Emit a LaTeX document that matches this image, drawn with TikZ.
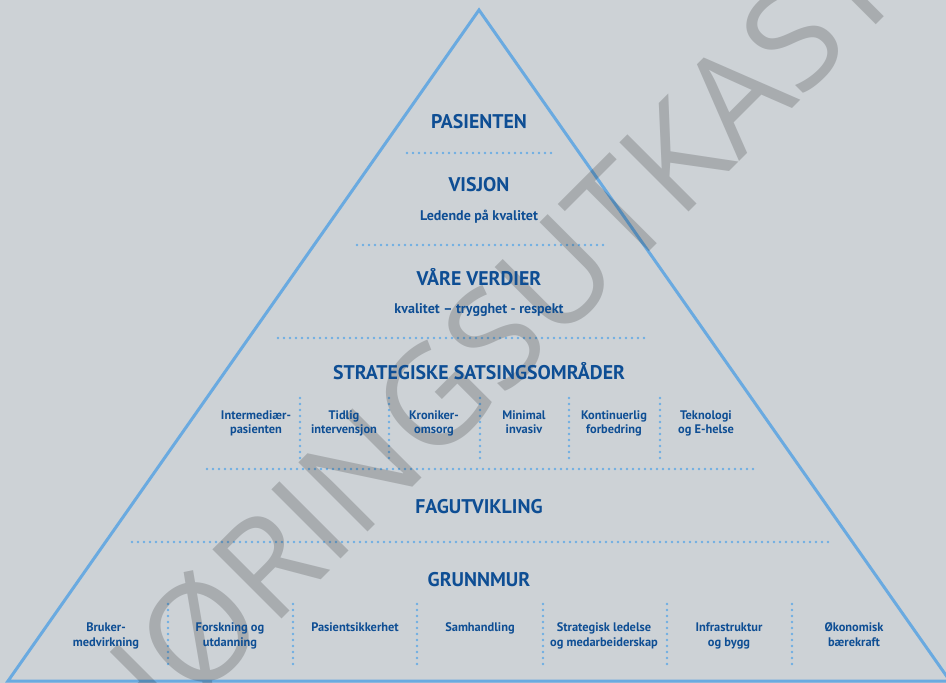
\documentclass[tikz,border=0pt]{standalone}
\usepackage{fontspec}
\setmainfont{PT Sans}
\newfontfamily\wmfont{Open Sans}
\definecolor{bgc}{RGB}{205,210,214}
\definecolor{tric}{RGB}{106,170,224}
\definecolor{dotc}{RGB}{110,174,228}
\definecolor{txtc}{RGB}{14,78,148}
\tikzset{
  tri/.style={draw=tric, line width=3pt, line join=miter},
  dotline/.style={draw=dotc, line width=2.9pt, line cap=round, dash pattern=on 0pt off 6pt},
  head/.style={text=txtc, font=\bfseries\fontsize{19.8}{22}\selectfont, anchor=base, inner sep=0pt},
  sub/.style={text=txtc, font=\bfseries\fontsize{14}{16}\selectfont, anchor=base, inner sep=0pt},
  item/.style={text=txtc, font=\bfseries\fontsize{12.4}{14.3}\selectfont, anchor=base, inner sep=0pt, align=center},
  wm/.style={text=black, opacity=0.18, font=\wmfont\fontsize{137}{137}\selectfont, inner sep=0pt}
}
\begin{document}
\begin{tikzpicture}[x=1pt,y=-1pt]
\useasboundingbox (0,0) rectangle (946,683);
\clip (0,0) rectangle (946,683);
\fill[bgc] (0,0) rectangle (946,683);
\draw[tri] (479,10) -- (950,681) -- (8,681) -- cycle;
% horizontal dotted lines
\draw[dotline] (407,153) -- (555,153);
\draw[dotline] (357,245) -- (603,245);
\draw[dotline] (278,338) -- (645,338);
\draw[dotline] (207,469) -- (753,469);
\draw[dotline] (132,542) -- (828,542);
% strategic separators
\foreach \x in {300,389,480,569,660} \draw[dotline] (\x,398) -- (\x,459);
% bottom separators
\foreach \x in {168,293,417,543,667,792} \draw[dotline] (\x,604) -- (\x,666);
% watermark
\node[wm, rotate=45] (wmk) at (481.5,350) {HØRINGSUTKAST};
% texts
\node[head] (pas) at (479,128.3) {PASIENTEN};
\node[head] (vis) at (479,191.7) {VISJON};
\node[sub] (led) at (479,220) {Ledende på kvalitet};
\node[head] (ver) at (479,285) {VÅRE VERDIER};
\node[sub] (kva) at (479,313.3) {kvalitet – trygghet - respekt};
\node[head] (str) at (479,379) {STRATEGISKE SATSINGSOMRÅDER};
\node[item] (s1) at (256,433.3) {Intermediær-\\pasienten};
\node[item] (s2) at (344,433.3) {Tidlig\\intervensjon};
\node[item] (s3) at (434,433.3) {Kroniker-\\omsorg};
\node[item] (s4) at (524,433.3) {Minimal\\invasiv};
\node[item] (s5) at (614,433.3) {Kontinuerlig\\forbedring};
\node[item] (s6) at (706,433.3) {Teknologi\\og E-helse};
\node[head] (fag) at (479,513.3) {FAGUTVIKLING};
\node[head] (gru) at (479,586.7) {GRUNNMUR};
\node[item] (b1) at (106,646) {Bruker-\\medvirkning};
\node[item] (b2) at (230,646) {Forskning og\\utdanning};
\node[item] (b3) at (355,631.7) {Pasientsikkerhet};
\node[item] (b4) at (480,631.7) {Samhandling};
\node[item] (b5) at (604,646) {Strategisk ledelse\\og medarbeiderskap};
\node[item] (b6) at (729,646) {Infrastruktur\\og bygg};
\node[item] (b7) at (854,646) {Økonomisk\\bærekraft};
\end{tikzpicture}
\end{document}
